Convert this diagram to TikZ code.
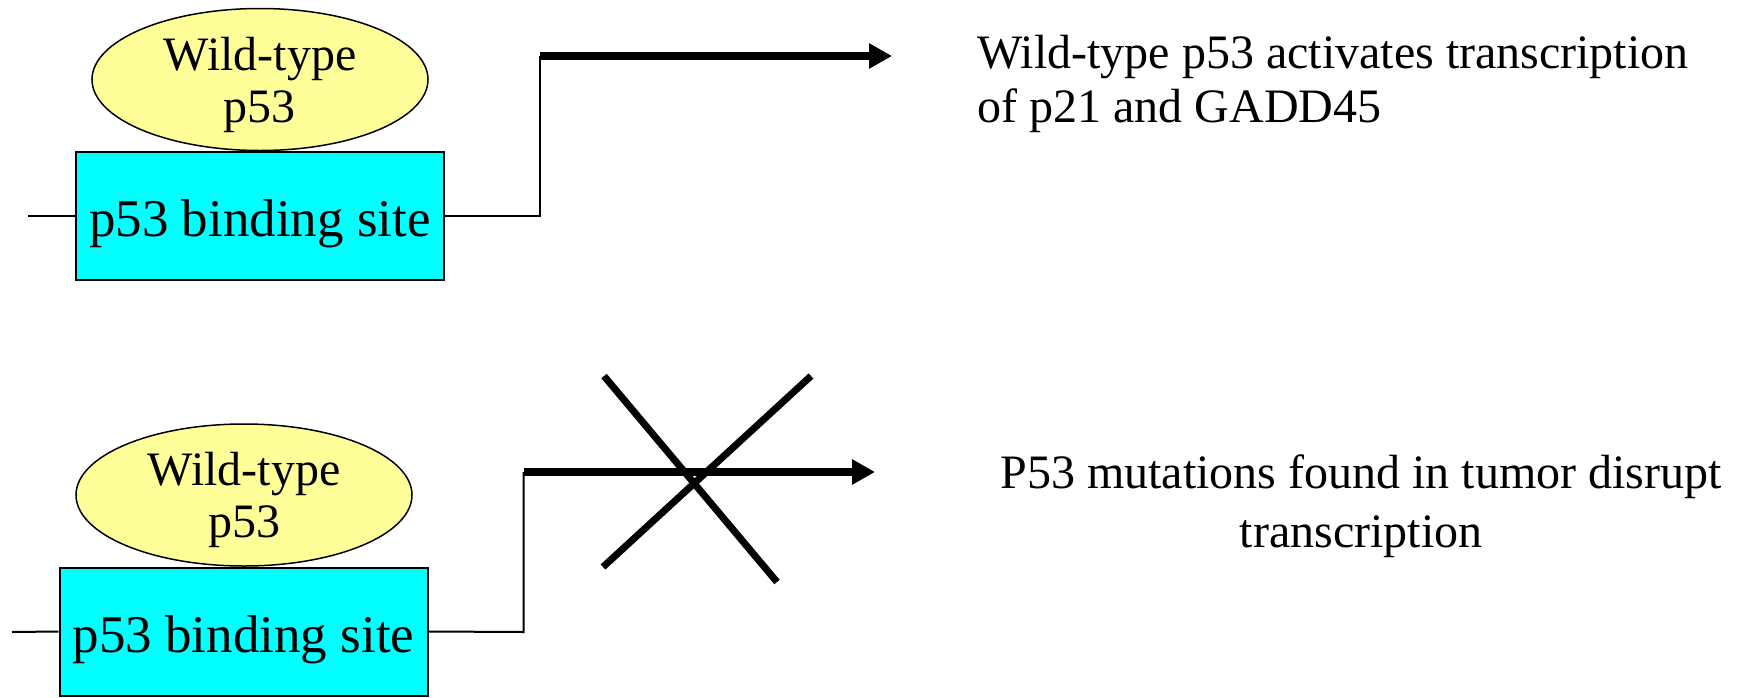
\documentclass[tikz,border=0pt]{standalone}
\usepackage{fontspec}
\setmainfont{Liberation Serif}
\usetikzlibrary{shapes.geometric,arrows.meta}
\definecolor{wtyellow}{RGB}{255,255,153}
\definecolor{sitecyan}{RGB}{0,255,255}
\tikzset{
  p53ell/.style={ellipse, draw=black, line width=0.75pt, fill=wtyellow, inner sep=0pt,
    minimum width=168pt, minimum height=71pt, align=center, text depth=0pt,
    font=\fontsize{24}{26}\selectfont},
  sitebox/.style={rectangle, draw=black, line width=1pt, fill=sitecyan, inner sep=0pt,
    minimum width=184pt, minimum height=64pt, text height=20.5pt, text depth=0pt,
    font=\fontsize{26.5}{30}\selectfont},
  thinline/.style={line width=1pt},
  thickarrow/.style={line width=4pt, -{Triangle[length=11.5pt,width=12pt]}},
  crossline/.style={line width=3.5pt},
  note/.style={inner sep=0pt, font=\fontsize{24}{27}\selectfont}
}
\begin{document}
\begin{tikzpicture}[x=0.5pt,y=-0.5pt]
\useasboundingbox (0,0) rectangle (1747,697);

% ---- top row ----
\node[sitebox] (box1) at (260,216) {p53 binding site};
\node[p53ell] (ell1) at (260,79.5) {Wild-type\\p53};
\coordinate (in1) at (28,216);
\coordinate (bend1) at (540,216);
\coordinate (up1) at (540,56);
\coordinate (tip1) at (892,56);
\draw[thinline] (in1) -- (box1.west);
\draw[thinline] (box1.east) -- (bend1) -- (up1);
\draw[thickarrow] (up1) -- (tip1);
\node[note, anchor=north west, align=left] (txt1) at (977,35)
  {Wild-type p53 activates transcription\\of p21 and GADD45};

% ---- bottom row ----
\node[sitebox] (box2) at (243.5,631.5) {p53 binding site};
\node[p53ell] (ell2) at (244,495) {Wild-type\\p53};
\coordinate (in2) at (12,632);
\coordinate (bend2) at (523.5,632);
\coordinate (up2) at (523.5,472);
\coordinate (tip2) at (875,472);
\draw[thinline] (in2) -- (box2.west);
\draw[thinline] (box2.east) -- (bend2) -- (up2);
\draw[thickarrow] (up2) -- (tip2);
\coordinate (xa1) at (604,376);
\coordinate (xa2) at (777,582);
\coordinate (xb1) at (811,376);
\coordinate (xb2) at (603,567);
\draw[crossline] (xa1) -- (xa2);
\draw[crossline] (xb1) -- (xb2);
\node[note, anchor=north, align=center, font=\fontsize{24}{29.5}\selectfont] (txt2) at (1361,454)
  {P53 mutations found in tumor disrupt\\transcription};
\end{tikzpicture}
\end{document}
